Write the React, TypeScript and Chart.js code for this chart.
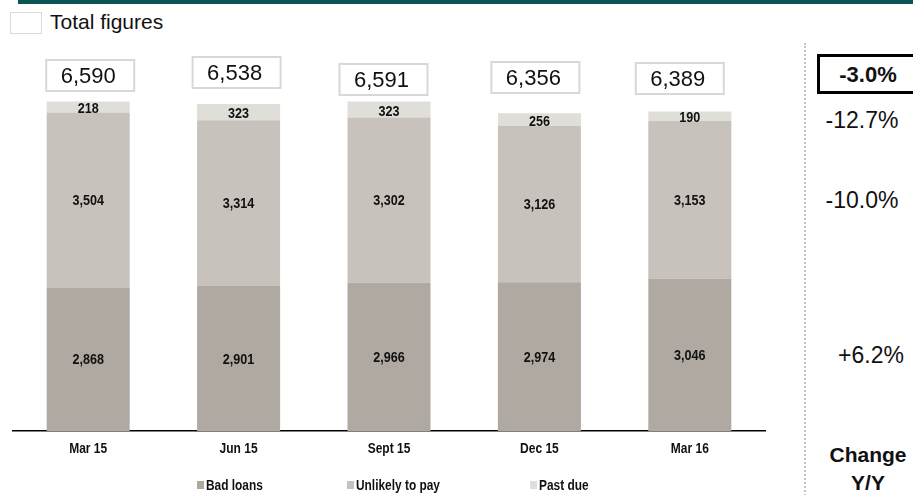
import React, { useEffect, useRef } from "react";
import { Chart, registerables } from "chart.js";

Chart.register(...registerables);

const categories = ["Mar 15", "Jun 15", "Sept 15", "Dec 15", "Mar 16"];
const badLoans = [2868, 2901, 2966, 2974, 3046];
const unlikelyToPay = [3504, 3314, 3302, 3126, 3153];
const pastDue = [218, 323, 323, 256, 190];
const totals = [6590, 6538, 6591, 6356, 6389];
const seriesNames = ["Bad loans", "Unlikely to pay", "Past due"];
const changeYY = ["-3.0%", "-12.7%", "-10.0%", "+6.2%"];

// layout/style (not data)
const colors = ["#B0A9A2", "#C7C2BB", "#E0DED9"];
const boxDx = [2, -2, -5.5, -4, -10];
const boxTop = [60, 57, 64, 62, 63];
const SANS = '"Liberation Sans", Arial, sans-serif';
const NARROW_SCALE = 0.84;

const fmt = (v: number) => v.toLocaleString("en-US");

function narrowText(ctx: CanvasRenderingContext2D, text: string, x: number, y: number, sx: number) {
  ctx.save();
  ctx.translate(x, y);
  ctx.scale(sx, 1);
  ctx.fillText(text, 0, 0);
  ctx.restore();
}

const labelPlugin = {
  id: "valueLabels",
  afterDraw(chart: any) {
    const ctx = chart.ctx as CanvasRenderingContext2D;
    ctx.save();
    ctx.textAlign = "center";
    ctx.textBaseline = "middle";
    ctx.fillStyle = "#111";
    ctx.font = `bold 15px ${SANS}`;
    chart.data.datasets.forEach((ds: any, di: number) => {
      const meta = chart.getDatasetMeta(di);
      meta.data.forEach((el: any, i: number) => {
        const p = el.getProps(["x", "y", "base"], true);
        narrowText(ctx, fmt(ds.data[i]), p.x, (p.y + p.base) / 2 + (di === 2 ? 2 : 1), NARROW_SCALE);
      });
    });
    const xs = chart.scales.x;
    // category labels along the x scale
    ctx.font = `bold 15px ${SANS}`;
    chart.data.labels.forEach((lab: string, i: number) => {
      narrowText(ctx, lab, xs.getPixelForValue(i), xs.bottom + 18, 0.8);
    });
    // total boxes
    totals.forEach((t, i) => {
      const cx = xs.getPixelForValue(i) + boxDx[i];
      const w = 88;
      const h = 31;
      const top = boxTop[i];
      ctx.fillStyle = "#fff";
      ctx.fillRect(cx - w / 2, top, w, h);
      ctx.strokeStyle = "#D8D8D8";
      ctx.lineWidth = 2;
      ctx.strokeRect(cx - w / 2, top, w, h);
      ctx.fillStyle = "#111";
      ctx.font = `22px ${SANS}`;
      ctx.fillText(fmt(t), cx - 2, top + h / 2 + 1);
    });
    ctx.restore();
  },
};

export default function App() {
  const ref = useRef<HTMLCanvasElement>(null);
  useEffect(() => {
    if (!ref.current) return;
    const chart = new Chart(ref.current, {
      type: "bar",
      data: {
        labels: categories,
        datasets: [
          { label: seriesNames[0], data: badLoans, backgroundColor: colors[0] },
          { label: seriesNames[1], data: unlikelyToPay, backgroundColor: colors[1] },
          { label: seriesNames[2], data: pastDue, backgroundColor: colors[2] },
        ],
      },
      options: {
        animation: false,
        responsive: false,
        maintainAspectRatio: false,
        layout: { padding: { left: 13, right: 25, top: 31, bottom: 64 } },
        datasets: { bar: { categoryPercentage: 1, barPercentage: 0.552 } },
        plugins: { legend: { display: false }, tooltip: { enabled: false } },
        scales: {
          x: {
            stacked: true,
            grid: { display: false, drawTicks: false },
            border: { display: true, color: "#000", width: 1.5 },
            ticks: { display: false },
          },
          y: { stacked: true, display: false, min: 0, max: 8000 },
        },
      },
      plugins: [labelPlugin],
    });
    return () => chart.destroy();
  }, []);

  const legendPos = [197, 347, 530];
  const rightText = (txt: string, cx: number, cy: number, bold: boolean, size: number) => (
    <div
      style={{
        position: "absolute",
        left: cx - 60,
        top: cy - 15,
        width: 120,
        height: 30,
        lineHeight: "30px",
        textAlign: "center",
        fontWeight: bold ? "bold" : "normal",
        fontSize: size,
        color: "#111",
        whiteSpace: "nowrap",
      }}
    >
      {txt}
    </div>
  );

  return (
    <div style={{ position: "fixed", left: 0, top: 0, width: 913, height: 495, background: "#fff", overflow: "hidden", fontFamily: SANS }}>
      <div style={{ position: "absolute", left: 18, top: 0, width: 895, height: 4, background: "#0B5456" }} />
      <div style={{ position: "absolute", left: 10, top: 12, width: 30, height: 20, border: "1px solid #DADADA" }} />
      <div style={{ position: "absolute", left: 50, top: 10, fontSize: 21, color: "#111", lineHeight: "24px" }}>Total figures</div>
      <canvas ref={ref} width={790} height={495} style={{ position: "absolute", left: 0, top: 0, width: 790, height: 495 }} />
      {seriesNames.map((n, i) => (
        <div key={n} style={{ position: "absolute", left: legendPos[i], top: 477, display: "flex", alignItems: "center", height: 16 }}>
          <span style={{ display: "inline-block", width: 7, height: 8, background: colors[i], marginRight: 2 }} />
          <span style={{ display: "inline-block", fontWeight: "bold", fontSize: 14, color: "#111", transform: "scaleX(0.85)", transformOrigin: "left center", whiteSpace: "nowrap" }}>{n}</span>
        </div>
      ))}
      <div style={{ position: "absolute", left: 804, top: 43, height: 460, borderLeft: "2px dotted #C4C4C4" }} />
      <div style={{ position: "absolute", left: 817, top: 54, width: 120, height: 34, border: "3px solid #000" }} />
      {rightText(changeYY[0], 868, 75, true, 22)}
      {rightText(changeYY[1], 862, 120, false, 23)}
      {rightText(changeYY[2], 862, 200, false, 23)}
      {rightText(changeYY[3], 871, 355, false, 23)}
      {rightText("Change", 868, 455, true, 21)}
      {rightText("Y/Y", 868, 483, true, 21)}
    </div>
  );
}
